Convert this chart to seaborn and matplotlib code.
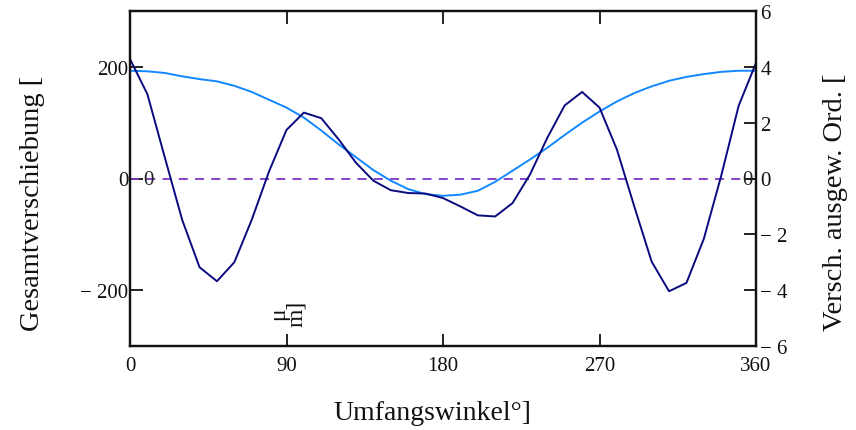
import pandas as pd
import matplotlib
matplotlib.use("Agg")
import matplotlib.pyplot as plt
import seaborn as sns

# angle grid (deg) and the two curves (left axis units)
winkel = list(range(0, 361, 10))
gesamt = [214, 151, 38, -74, -159, -184, -150, -74, 13, 87,
          118, 108, 70, 28, -4, -21, -26, -27, -35, -50,
          -66, -68, -44, 7, 73, 131, 155, 127, 52, -50,
          -149, -202, -187, -108, 5, 130, 207]
ordnung = [193, 192, 189, 183, 178, 174, 166, 155, 141, 127,
           109, 86, 61, 38, 15, -4, -19, -28, -31, -29,
           -22, -6, 14, 34, 55, 78, 100, 120, 138, 153,
           165, 175, 182, 187, 191, 193, 193]

x_ticks = [0, 90, 180, 270, 360]
left_ticks = [200, 0, -200]
left_labels = ["200", "0", "\u2212 200"]
right_ticks = [6, 4, 2, 0, -2, -4, -6]
right_labels = ["6", "4", "2", "0", "\u2212 2", "\u2212 4", "\u2212 6"]

df = pd.DataFrame({"winkel": winkel, "gesamt": gesamt, "ordnung": ordnung})

sns.set_style("ticks")
plt.rcParams["font.family"] = ["Liberation Serif", "DejaVu Serif"]

fig = plt.figure(figsize=(8.56, 4.31), dpi=100)
ax = fig.add_axes([130 / 856, 1 - 347 / 431, 626 / 856, 335 / 431])

# zero line + both curves
ax.axhline(0, color="#7B35C4", lw=1.3, ls=(0, (5, 4)), zorder=1)
sns.lineplot(data=df, x="winkel", y="ordnung", ax=ax, color="#1188FF", lw=1.4)
sns.lineplot(data=df, x="winkel", y="gesamt", ax=ax, color="#0A0A80", lw=1.4)

ax.set_xlim(0, 360)
ax.set_ylim(-300, 300)
ax.set_xticks(x_ticks)
ax.set_yticks(left_ticks)
ax.set_yticklabels(left_labels)
ax.set_xlabel("")
ax.set_ylabel("")
ax.tick_params(axis="both", direction="in", length=9, width=1.3,
               labelsize=15, colors="#111111")
ax.tick_params(axis="x", top=True, pad=7)
ax.tick_params(axis="y", pad=1)

# right axis only carries its own scale
ax2 = ax.twinx()
ax2.set_ylim(-6, 6)
ax2.set_yticks(right_ticks)
ax2.set_yticklabels(right_labels)
ax2.tick_params(axis="y", direction="in", length=9, width=1.3,
                labelsize=15, pad=3, colors="#111111")

for a in (ax, ax2):
    for s in a.spines.values():
        s.set_linewidth(1.6)
        s.set_color("#111111")

# small zero markers at both ends of the dashed line
fig.text(148 / 856, 1 - 181 / 431, "0", fontsize=15, ha="center", va="center", color="#222222")
fig.text(747 / 856, 1 - 181 / 431, "0", fontsize=15, ha="center", va="center", color="#222222")

# axis titles
fig.text(33 / 856, 1 - 203 / 431, "Gesamtverschiebung [", rotation=90,
         fontsize=20.5, ha="center", va="center", color="#111111")
fig.text(835 / 856, 1 - 202 / 431, "Versch. ausgew. Ord. [", rotation=90,
         fontsize=20.5, ha="center", va="center", color="#111111")
fig.text(432 / 856, 1 - 414 / 431, "Umfangswinkel°]", fontsize=20,
         ha="center", va="center", color="#111111")
fig.text(288 / 856, 1 - 314 / 431, "\u03bc\nm]", rotation=90, fontsize=17,
         ha="center", va="center", linespacing=0.8, color="#111111")

fig.savefig("out.png", dpi=100)
